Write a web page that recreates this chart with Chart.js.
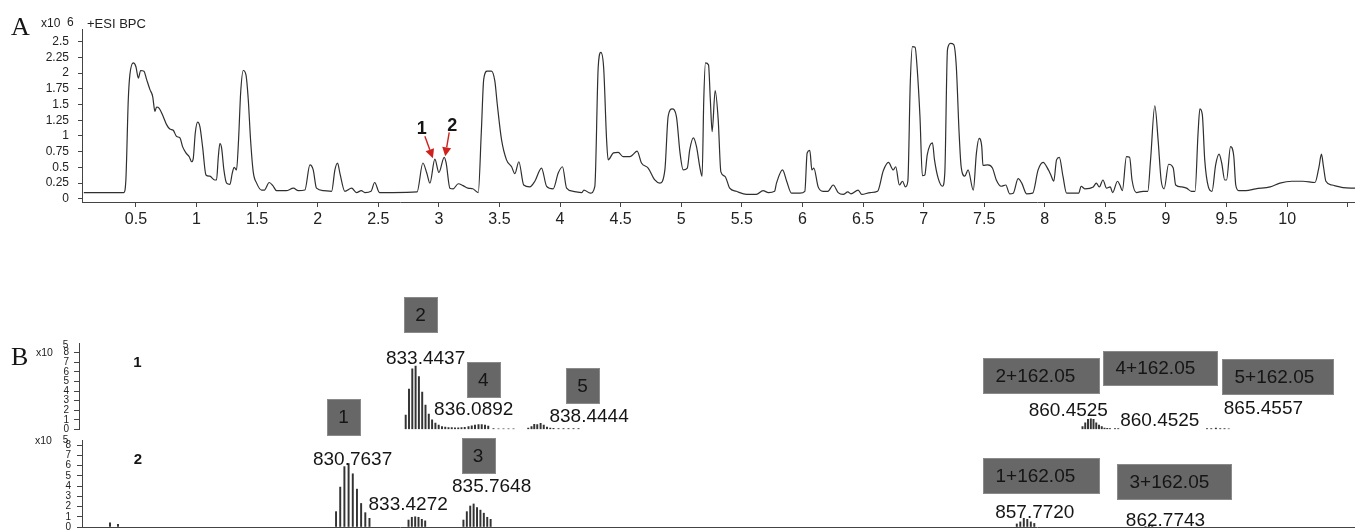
<!DOCTYPE html>
<html>
<head>
<meta charset="utf-8">
<title>BPC chromatogram and mass spectra</title>
<script src="https://cdn.jsdelivr.net/npm/chart.js@4.4.1/dist/chart.umd.min.js"></script>
<style>
  html, body { margin: 0; padding: 0; background: #ffffff; }
  #fig { position: relative; width: 1355px; height: 530px; overflow: hidden; background: #fff; }
  .layer { position: absolute; left: 0; }
  canvas { display: block; }
</style>
</head>
<body>
<div id="fig">
  <div class="layer" style="top:0px"><canvas id="bpc" width="1355" height="232"></canvas></div>
  <div class="layer" style="top:290px"><canvas id="ms1" width="1355" height="240"></canvas></div>
  <div class="layer" style="top:290px"><canvas id="ms2" width="1355" height="240"></canvas></div>
</div>
<script>
// ---------- Panel A: base peak chromatogram (+ESI BPC), intensity in units of 10^6 ----------
const bpcTime = [
  0.07, 0.20, 0.30, 0.40, 0.417, 0.437, 0.45, 0.478, 0.50, 0.52, 0.539, 0.566, 0.588, 0.615, 0.638,
  0.657, 0.67, 0.692, 0.725, 0.753, 0.78, 0.808, 0.836, 0.863, 0.885, 0.913, 0.94, 0.96, 0.973, 0.99,
  1.009, 1.028, 1.05, 1.078, 1.11, 1.15, 1.165, 1.18, 1.193, 1.207, 1.226, 1.248, 1.276, 1.295, 1.311,
  1.33, 1.347, 1.364, 1.386, 1.408, 1.427, 1.446, 1.468, 1.496, 1.537, 1.56, 1.60, 1.63, 1.66, 1.74,
  1.80, 1.84, 1.894, 1.936, 1.963, 1.99, 2.05, 2.115, 2.142, 2.164, 2.183, 2.224, 2.28, 2.32, 2.36,
  2.39, 2.44, 2.47, 2.51, 2.62, 2.82, 2.868, 2.90, 2.926, 2.967, 3.00, 3.044, 3.06, 3.091, 3.118,
  3.16, 3.20, 3.24, 3.28, 3.325, 3.35, 3.37, 3.398, 3.434, 3.462, 3.481, 3.517, 3.558, 3.60, 3.627,
  3.66, 3.70, 3.75, 3.792, 3.847, 3.889, 3.943, 3.985, 4.02, 4.054, 4.11, 4.18, 4.197, 4.25, 4.287,
  4.315, 4.337, 4.36, 4.384, 4.397, 4.44, 4.48, 4.52, 4.575, 4.60, 4.636, 4.672, 4.727, 4.782, 4.823,
  4.865, 4.892, 4.925, 4.96, 4.99, 5.016, 5.05, 5.07, 5.10, 5.126, 5.153, 5.172, 5.186, 5.20, 5.225,
  5.24, 5.255, 5.28, 5.305, 5.327, 5.36, 5.40, 5.455, 5.54, 5.62, 5.675, 5.72, 5.77, 5.786, 5.836,
  5.87, 5.91, 5.98, 6.02, 6.039, 6.061, 6.078, 6.094, 6.13, 6.17, 6.21, 6.254, 6.295, 6.336, 6.375,
  6.40, 6.46, 6.49, 6.56, 6.62, 6.668, 6.71, 6.75, 6.77, 6.80, 6.826, 6.85, 6.87, 6.89, 6.908,
  6.93, 6.946, 6.97, 6.99, 7.01, 7.03, 7.073, 7.09, 7.12, 7.156, 7.175, 7.197, 7.222, 7.249, 7.27,
  7.293, 7.31, 7.34, 7.367, 7.41, 7.436, 7.458, 7.48, 7.49, 7.53, 7.568, 7.60, 7.64, 7.678, 7.71,
  7.74, 7.78, 7.81, 7.85, 7.90, 7.945, 7.986, 8.03, 8.05, 8.074, 8.097, 8.12, 8.15, 8.18, 8.28,
  8.30, 8.33, 8.40, 8.425, 8.45, 8.48, 8.51, 8.54, 8.56, 8.60, 8.62, 8.64, 8.674, 8.70, 8.72,
  8.756, 8.81, 8.85, 8.873, 8.908, 8.935, 8.96, 8.985, 9.022, 9.06, 9.08, 9.13, 9.17, 9.21, 9.24,
  9.265, 9.28, 9.30, 9.32, 9.35, 9.38, 9.41, 9.438, 9.46, 9.485, 9.50, 9.533, 9.56, 9.576, 9.60,
  9.66, 9.74, 9.86, 9.94, 10.04, 10.13, 10.23, 10.263, 10.283, 10.30, 10.32, 10.37, 10.46, 10.56
];
const bpcIntensity = [
  0.10, 0.10, 0.10, 0.10, 0.30, 1.58, 1.97, 2.16, 2.10, 1.92, 2.04, 2.03, 1.90, 1.74, 1.63,
  1.39, 1.46, 1.44, 1.31, 1.18, 1.11, 1.09, 0.99, 0.97, 0.83, 0.73, 0.67, 0.59, 0.64, 1.05,
  1.22, 1.15, 0.83, 0.38, 0.36, 0.30, 0.30, 0.67, 0.88, 0.81, 0.46, 0.25, 0.23, 0.41, 0.50,
  0.46, 0.94, 1.68, 2.04, 1.97, 1.58, 0.94, 0.43, 0.25, 0.14, 0.14, 0.26, 0.21, 0.13, 0.13,
  0.17, 0.13, 0.14, 0.54, 0.46, 0.17, 0.13, 0.12, 0.46, 0.57, 0.41, 0.12, 0.17, 0.10, 0.13,
  0.10, 0.12, 0.26, 0.10, 0.10, 0.11, 0.57, 0.41, 0.25, 0.63, 0.42, 0.66, 0.57, 0.17, 0.16,
  0.24, 0.21, 0.17, 0.16, 0.10, 1.05, 1.90, 2.03, 2.03, 1.87, 1.52, 0.94, 0.62, 0.51, 0.40,
  0.59, 0.22, 0.19, 0.28, 0.49, 0.20, 0.16, 0.41, 0.51, 0.17, 0.12, 0.10, 0.14, 0.09, 0.20,
  2.10, 2.33, 2.08, 0.94, 0.62, 0.73, 0.74, 0.67, 0.67, 0.70, 0.76, 0.57, 0.49, 0.30, 0.25,
  0.46, 1.31, 1.43, 1.31, 0.73, 0.46, 0.49, 0.78, 0.97, 0.83, 0.51, 0.36, 1.58, 2.16, 2.13,
  1.58, 1.07, 1.72, 1.26, 0.43, 0.36, 0.17, 0.12, 0.07, 0.07, 0.13, 0.10, 0.12, 0.25, 0.46,
  0.28, 0.09, 0.09, 0.12, 0.73, 0.77, 0.46, 0.49, 0.19, 0.12, 0.12, 0.22, 0.10, 0.07, 0.11,
  0.08, 0.14, 0.07, 0.10, 0.12, 0.45, 0.58, 0.46, 0.51, 0.22, 0.28, 0.19, 0.28, 1.84, 2.42,
  2.41, 2.10, 1.31, 0.37, 0.38, 0.70, 0.89, 0.62, 0.33, 0.20, 0.41, 2.37, 2.47, 2.45, 2.10,
  1.05, 0.51, 0.36, 0.46, 0.14, 0.73, 0.96, 0.83, 0.53, 0.54, 0.49, 0.30, 0.20, 0.22, 0.08,
  0.09, 0.32, 0.25, 0.08, 0.09, 0.46, 0.58, 0.46, 0.38, 0.28, 0.62, 0.66, 0.36, 0.09, 0.09,
  0.20, 0.16, 0.19, 0.25, 0.19, 0.30, 0.17, 0.19, 0.10, 0.28, 0.22, 0.13, 0.67, 0.66, 0.30,
  0.10, 0.12, 0.12, 0.62, 1.48, 0.94, 0.30, 0.16, 0.55, 0.49, 0.22, 0.19, 0.17, 0.12, 0.12,
  1.05, 1.43, 1.34, 0.62, 0.19, 0.12, 0.54, 0.71, 0.57, 0.30, 0.30, 0.83, 0.67, 0.22, 0.13,
  0.13, 0.16, 0.19, 0.25, 0.28, 0.28, 0.26, 0.51, 0.71, 0.51, 0.28, 0.22, 0.18, 0.17
];
const bpcTimeTicks = [0.5, 1, 1.5, 2, 2.5, 3, 3.5, 4, 4.5, 5, 5.5, 6, 6.5, 7, 7.5, 8, 8.5, 9, 9.5, 10, 10.5];
const bpcIntensityTicks = [0, 0.25, 0.5, 0.75, 1, 1.25, 1.5, 1.75, 2, 2.25, 2.5];
// Peaks marked with arrows (retention time, min) and their labels
const bpcMarkTime = [2.967, 3.044];
const bpcMarkLabel = ['1', '2'];

// ---------- Panel B: mass spectra of peaks 1 and 2, intensity in units of 10^5 ----------
const ms1Mz = [
  833.048, 833.180, 833.312, 833.4437, 833.576, 833.708, 833.840, 833.972, 834.104, 834.236, 834.368,
  834.50, 834.63, 834.76, 834.89, 835.02, 835.15, 835.28, 835.41,
  835.56, 835.69, 835.82, 835.96, 836.0892, 836.22, 836.35,
  836.56, 836.76, 836.96, 837.16, 837.36,
  837.95, 838.08, 838.19, 838.31, 838.4444, 838.57, 838.70, 838.83,
  838.96, 839.16, 839.36, 839.56, 839.76, 839.96,
  860.12, 860.23, 860.34, 860.4525, 860.56, 860.67, 860.78, 860.89, 861.00, 861.11, 861.22, 861.42, 861.55,
  865.10, 865.27, 865.4557, 865.63, 865.80, 865.97
];
const ms1Intensity = [
  1.5, 4.2, 6.3, 6.6, 5.5, 3.9, 2.55, 1.6, 1.0, 0.68, 0.47,
  0.3, 0.25, 0.2, 0.2, 0.18, 0.18, 0.2, 0.22,
  0.3, 0.38, 0.45, 0.5, 0.52, 0.45, 0.35,
  0.1, 0.08, 0.08, 0.08, 0.08,
  0.15, 0.3, 0.55, 0.5, 0.65, 0.45, 0.25, 0.15,
  0.12, 0.1, 0.1, 0.1, 0.1, 0.1,
  0.3, 0.7, 1.05, 1.12, 1.05, 0.7, 0.47, 0.3, 0.15, 0.12, 0.1, 0.1, 0.1,
  0.1, 0.1, 0.14, 0.1, 0.1, 0.08
];
const ms2Mz = [
  821.22, 821.54,
  830.262, 830.429, 830.596, 830.7637, 830.931, 831.098, 831.265, 831.432, 831.599,
  833.161, 833.294, 833.4272, 833.560, 833.694, 833.827,
  835.357, 835.493, 835.629, 835.7648, 835.901, 836.037, 836.173, 836.309, 836.445,
  857.492, 857.632, 857.7720, 857.912, 858.052, 858.192,
  862.64, 862.7743, 862.91
];
const ms2Intensity = [
  0.4, 0.25,
  1.5, 3.9, 5.9, 6.2, 5.2, 3.7, 2.3, 1.4, 0.85,
  0.68, 0.95, 1.0, 0.95, 0.75, 0.6,
  0.68, 1.5, 2.05, 2.25, 1.9, 1.65, 1.35, 0.95, 0.75,
  0.3, 0.5, 0.85, 0.75, 0.5, 0.35,
  0.04, 0.06, 0.04
];
const msIntensityTicks = [0, 1, 2, 3, 4, 5, 6, 7, 8];
// Labelled peaks (m/z) and the fragment tags shown above them
const ms1LabelMz = [833.4437, 836.0892, 838.4444, 860.4525, 860.4525, 865.4557];
const ms1Tags = ['2', '4', '5', '2+162.05', '4+162.05', '5+162.05'];
const ms2LabelMz = [830.7637, 833.4272, 835.7648, 857.7720, 862.7743];
const ms2Tags = ['1', null, '3', '1+162.05', '3+162.05'];

// ---------- placement of the notes (pixel offsets) ----------
const bpcMarkLayout = [
  { tipDx: -2, tipDy: -1, tailDx: -10, tailDy: -23, labelDx: -13, labelDy: -30 },
  { tipDx: 1, tipDy: -1, tailDx: 5, tailDy: -25, labelDx: 8, labelDy: -31 }
];
const ms1NoteLayout = [
  { dx: 10, dy: -7, bx: -5, by: -44.5, bw: 33, bh: 35 },
  { dx: -8, dy: -14.5, bx: 9.5, by: -30.5, bw: 33, bh: 35 },
  { dx: 48.5, dy: -6.3, bx: -6.5, by: -31.5, bw: 33, bh: 35 },
  { dx: -22.5, dy: -7.7, bx: -27.5, by: -35.5, bw: 116, bh: 35 },
  { dx: 69, dy: 2.3, bx: 0, by: -53, bw: 114, bh: 34 },
  { dx: 47.5, dy: -19.2, bx: 14, by: -32.5, bw: 111, bh: 35 }
];
const ms2NoteLayout = [
  { dx: 4, dy: -3.5, bx: -9, by: -43, bw: 33, bh: 36 },
  { dx: -7, dy: -11.8 },
  { dx: 18, dy: -17, bx: -13.5, by: -31.5, bw: 33, bh: 35 },
  { dx: 11, dy: -5.3, bx: 6, by: -37.5, bw: 116, bh: 35 },
  { dx: 16.6, dy: -5.4, bx: 8.5, by: -39.5, bw: 114, bh: 35 }
];

const SANS = '"Liberation Sans", Arial, Helvetica, sans-serif';
const SERIF = '"Liberation Serif", "Times New Roman", serif';
const INK = '#151515';
const AXIS = '#444444';
const TAG_FILL = '#676767';
Chart.defaults.font.family = SANS;

function xyPoints(xs, ys) { return xs.map((x, i) => ({ x: x, y: ys[i] })); }
function nearestValue(xs, ys, x) {
  let best = 0, bd = Infinity;
  xs.forEach((v, i) => { const d = Math.abs(v - x); if (d < bd) { bd = d; best = i; } });
  return ys[best];
}
function fixedTicks(values) { return s => { s.ticks = values.map(v => ({ value: v })); }; }

function axis(opts) {
  return {
    type: 'linear',
    min: opts.min, max: opts.max, display: opts.display !== false,
    offset: false,
    grid: { drawOnChartArea: false, drawTicks: opts.tickLen > 0, tickLength: opts.tickLen, color: AXIS, lineWidth: 1 },
    border: { display: true, color: AXIS, width: 1 },
    ticks: {
      display: opts.fontSize > 0,
      font: { size: opts.fontSize || 10, family: SANS },
      color: '#222', padding: opts.pad || 0,
      autoSkip: false, maxRotation: 0, minRotation: 0,
      callback: opts.format || (v => String(v))
    },
    afterBuildTicks: opts.ticks ? fixedTicks(opts.ticks) : undefined,
    afterFit: s => {
      if (opts.width !== undefined) s.width = opts.width;
      if (opts.height !== undefined) s.height = opts.height;
      s.paddingTop = 0; s.paddingBottom = 0; s.paddingLeft = 0; s.paddingRight = 0;
    }
  };
}

function drawArrow(ctx, x1, y1, x2, y2, color) {
  const ang = Math.atan2(y2 - y1, x2 - x1), head = 9, hw = 4.5;
  const bx = x2 - head * Math.cos(ang), by = y2 - head * Math.sin(ang);
  ctx.strokeStyle = color; ctx.lineWidth = 1.4;
  ctx.beginPath(); ctx.moveTo(x1, y1); ctx.lineTo(bx, by); ctx.stroke();
  ctx.fillStyle = color;
  ctx.beginPath(); ctx.moveTo(x2, y2);
  ctx.lineTo(bx + hw * Math.sin(ang), by - hw * Math.cos(ang));
  ctx.lineTo(bx - hw * Math.sin(ang), by + hw * Math.cos(ang));
  ctx.closePath(); ctx.fill();
}

// Labels m/z values and the grey fragment tags of a spectrum
function drawPeakNotes(chart, mzs, ints, labelMz, tags, layout) {
  const { ctx, scales: { x, y } } = chart;
  ctx.save();
  labelMz.forEach((mz, i) => {
    const L = layout[i];
    const px = x.getPixelForValue(mz);
    const py = y.getPixelForValue(nearestValue(mzs, ints, mz));
    const tx = px + L.dx, ty = py + L.dy;
    if (tags[i]) {
      const cx = tx + L.bx, cy = ty + L.by;
      const left = Math.round(cx - L.bw / 2) + 0.5, top = Math.round(cy - L.bh / 2) + 0.5;
      ctx.fillStyle = TAG_FILL;
      ctx.fillRect(left, top, L.bw, L.bh);
      ctx.strokeStyle = '#8a8a8a'; ctx.lineWidth = 1;
      ctx.strokeRect(left, top, L.bw, L.bh);
      ctx.fillStyle = INK; ctx.font = '19px ' + SANS; ctx.textBaseline = 'middle';
      if (tags[i].length > 2) { ctx.textAlign = 'left'; ctx.fillText(tags[i], left + 12, cy + 1); }
      else { ctx.textAlign = 'center'; ctx.fillText(tags[i], cx, cy + 1); }
    }
    ctx.fillStyle = INK; ctx.font = '19px ' + SANS;
    ctx.textAlign = 'center'; ctx.textBaseline = 'middle';
    ctx.fillText(mz.toFixed(4), tx, ty);
  });
  ctx.restore();
}

function drawScaleNote(ctx, x10Left, x10Base, expX, expY) {
  ctx.fillStyle = '#222';
  ctx.font = '10.5px ' + SANS; ctx.textAlign = 'left'; ctx.textBaseline = 'alphabetic';
  ctx.fillText('x10', x10Left, x10Base);
  ctx.font = '10px ' + SANS; ctx.textAlign = 'center'; ctx.textBaseline = 'middle';
  ctx.fillText('5', expX, expY);
}

const bpcNotes = {
  id: 'bpcNotes',
  afterDraw(chart) {
    const { ctx, scales: { x, y } } = chart;
    ctx.save();
    ctx.fillStyle = INK; ctx.textAlign = 'left'; ctx.textBaseline = 'alphabetic';
    ctx.font = '26px ' + SERIF; ctx.fillText('A', 11, 35);
    ctx.fillStyle = '#222';
    ctx.font = '12px ' + SANS; ctx.fillText('x10', 41, 26.5);
    ctx.fillText('6', 67, 25.5);
    ctx.font = '13px ' + SANS; ctx.fillText('+ESI BPC', 87, 27.5);
    bpcMarkTime.forEach((t, i) => {
      const L = bpcMarkLayout[i];
      const px = x.getPixelForValue(t), py = y.getPixelForValue(nearestValue(bpcTime, bpcIntensity, t));
      drawArrow(ctx, px + L.tailDx, py + L.tailDy, px + L.tipDx, py + L.tipDy, '#d0211c');
      ctx.fillStyle = INK; ctx.font = 'bold 18px ' + SANS;
      ctx.textAlign = 'center'; ctx.textBaseline = 'middle';
      ctx.fillText(bpcMarkLabel[i], px + L.labelDx, py + L.labelDy);
    });
    ctx.restore();
  }
};

const ms1Notes = {
  id: 'ms1Notes',
  afterDraw(chart) {
    const ctx = chart.ctx;
    ctx.save();
    ctx.fillStyle = INK; ctx.font = '26px ' + SERIF; ctx.textAlign = 'left'; ctx.textBaseline = 'alphabetic';
    ctx.fillText('B', 11, 75);
    drawScaleNote(ctx, 36, 66, 65.5, 55);
    ctx.fillStyle = INK; ctx.font = 'bold 15px ' + SANS; ctx.textAlign = 'center'; ctx.textBaseline = 'middle';
    ctx.fillText('1', 137.5, 73);
    ctx.restore();
    drawPeakNotes(chart, ms1Mz, ms1Intensity, ms1LabelMz, ms1Tags, ms1NoteLayout);
  }
};

const ms2Notes = {
  id: 'ms2Notes',
  afterDraw(chart) {
    const ctx = chart.ctx;
    ctx.save();
    drawScaleNote(ctx, 35, 154, 65.5, 150);
    ctx.fillStyle = INK; ctx.font = 'bold 15px ' + SANS; ctx.textAlign = 'center'; ctx.textBaseline = 'middle';
    ctx.fillText('2', 138, 170);
    ctx.restore();
    drawPeakNotes(chart, ms2Mz, ms2Intensity, ms2LabelMz, ms2Tags, ms2NoteLayout);
  }
};

const common = {
  responsive: false, animation: false, events: [],
  plugins: { legend: { display: false }, tooltip: { enabled: false } }
};

// Panel A chart
new Chart(document.getElementById('bpc'), {
  type: 'scatter',
  data: { datasets: [{
    data: xyPoints(bpcTime, bpcIntensity), showLine: true,
    borderColor: '#2f2f2f', borderWidth: 1.2, pointRadius: 0,
    cubicInterpolationMode: 'monotone', fill: false
  }] },
  options: Object.assign({}, common, {
    layout: { padding: { top: 29, left: 0, right: 0, bottom: 0 } },
    scales: {
      x: axis({ min: 0.055, max: 10.56, ticks: bpcTimeTicks, tickLen: 5, fontSize: 16, pad: 3, height: 30,
                format: v => (v > 10.2 ? '' : String(v)) }),
      y: axis({ min: -0.05, max: 2.7, ticks: bpcIntensityTicks, tickLen: 4, fontSize: 12, pad: 9, width: 82 })
    }
  }),
  plugins: [bpcNotes]
});

function spectrumDataset(mzs, ints) {
  return {
    data: xyPoints(mzs, ints), backgroundColor: '#333333', borderWidth: 0,
    barThickness: 1.3, grouped: false
  };
}

// Panel B, spectrum of peak 1
new Chart(document.getElementById('ms1'), {
  type: 'bar',
  data: { datasets: [spectrumDataset(ms1Mz, ms1Intensity)] },
  options: Object.assign({}, common, {
    layout: { padding: { top: 53, left: 0, right: 0, bottom: 100.5 } },
    scales: {
      x: axis({ min: 819.98, max: 871.02, display: false, tickLen: 0, fontSize: 0 }),
      y: axis({ min: 0, max: 9.0, ticks: msIntensityTicks, tickLen: 5, fontSize: 10, pad: 5, width: 79 })
    }
  }),
  plugins: [ms1Notes]
});

// Panel B, spectrum of peak 2
new Chart(document.getElementById('ms2'), {
  type: 'bar',
  data: { datasets: [spectrumDataset(ms2Mz, ms2Intensity)] },
  options: Object.assign({}, common, {
    layout: { padding: { top: 150, left: 0, right: 0, bottom: 0 } },
    scales: {
      x: axis({ min: 820.1, max: 871.02, tickLen: 0, fontSize: 0, height: 3 }),
      y: axis({ min: 0, max: 8.5, ticks: msIntensityTicks, tickLen: 5, fontSize: 10, pad: 6, width: 82 })
    }
  }),
  plugins: [ms2Notes]
});
</script>
</body>
</html>
